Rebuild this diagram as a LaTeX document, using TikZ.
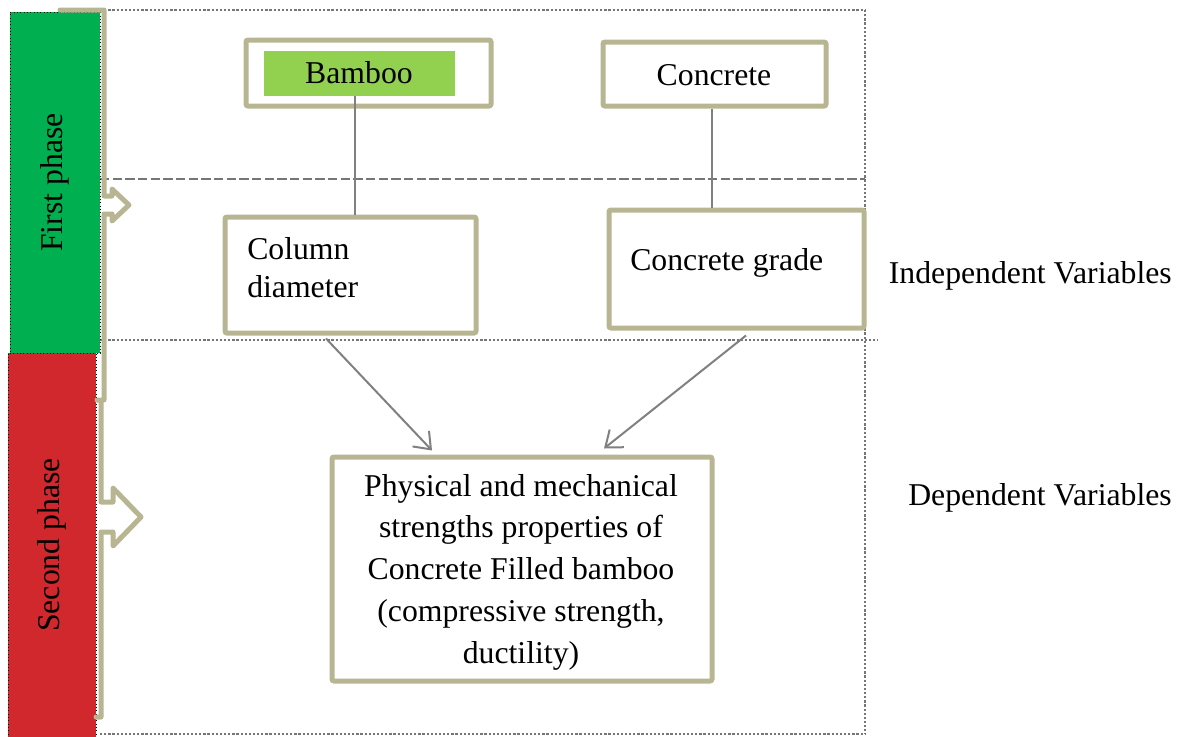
\documentclass[tikz,border=0pt]{standalone}
\usepackage{fontspec}
\setmainfont{Liberation Serif}
\usetikzlibrary{arrows.meta,calc}
\definecolor{tanc}{RGB}{184,182,146}
\definecolor{pgreen}{RGB}{0,176,80}
\definecolor{pred}{RGB}{209,40,46}
\definecolor{lgreen}{RGB}{146,208,80}
\definecolor{lgray}{RGB}{128,128,128}
\definecolor{dgray}{RGB}{118,118,118}
\begin{document}
\begin{tikzpicture}[x=0.75pt,y=-0.75pt,
  font=\fontsize{23.8}{31.3}\selectfont,
  box/.style={draw=tanc,line width=3.75pt,rounded corners=1.5pt,fill=white,inner sep=0pt},
  brace/.style={draw=tanc,line width=3.75pt,line join=round,line cap=round},
  link/.style={draw=lgray,line width=1.5pt},
  arr/.style={link,-{Straight Barb[length=11pt,width=17pt]}},
  sepdot/.style={draw=dgray,line width=1.7pt,dash pattern=on 1.7pt off 1.4pt},
  sepdash/.style={draw=dgray,line width=1.7pt,dash pattern=on 7pt off 2.5pt},
  phase/.style={draw=black,line width=0.5pt,dotted,inner sep=0pt},
  txt/.style={inner sep=0pt}]
\useasboundingbox (0,0) rectangle (1186,736);

% separators
\draw[sepdot] (100,10) -- (865,10);
\draw[sepdot] (865,10) -- (865,734);
\draw[sepdash] (100,179) -- (865,179);
\draw[sepdot] (100,340) -- (878,340);
\draw[sepdot] (100,734) -- (865,734);

% phase bars
\node[phase,fill=pgreen,minimum width=90*0.75pt,minimum height=341*0.75pt] (p1) at (55,182.5) {};
\node[txt,rotate=90] (p1t) at (p1.center) {First phase};
\node[phase,fill=pred,minimum width=88*0.75pt,minimum height=390*0.75pt] (p2) at (52,548) {};
\node[txt,rotate=90] (p2t) at (52,545) {Second phase};

% braces
\draw[brace] (60,10) -- (104,10) -- (104,196) -- (112,196) -- (112,189) -- (129,205)
  -- (112,221) -- (112,214) -- (104,214) -- (104,400) -- (97,400);
\draw[brace] (101,402) -- (101,502) -- (113,502) -- (113,488) -- (141,517) -- (113,546)
  -- (113,532) -- (101,532) -- (101,717) -- (96,717);

% boxes
\node[box,minimum width=245*0.75pt,minimum height=66*0.75pt] (bamboo) at (368.5,73) {};
\node[fill=lgreen,inner sep=0pt,minimum width=191*0.75pt,minimum height=45*0.75pt] (bamboofill) at (359.5,73.5) {};
\node[txt] (bambootxt) at (359,73) {Bamboo};
\node[box,minimum width=223*0.75pt,minimum height=64*0.75pt] (concrete) at (714.5,74) {};
\node[txt] (concretetxt) at (714,75) {Concrete};
\node[box,minimum width=251*0.75pt,minimum height=116*0.75pt] (col) at (350.5,275) {};
\node[txt,anchor=west,align=left,font=\fontsize{23.8}{28.5}\selectfont] (coltxt) at (247,268) {Column\\diameter};
\node[box,minimum width=255*0.75pt,minimum height=118*0.75pt] (grade) at (736.5,269) {};
\node[txt,anchor=west] (gradetxt) at (630,263) {Concrete grade};
\node[box,minimum width=380*0.75pt,minimum height=224*0.75pt] (phys) at (522,569) {};
\node[txt,align=center] (phystxt) at (521,572) {Physical and mechanical\\strengths properties of\\Concrete Filled bamboo\\(compressive strength,\\ductility)};

% labels
\node[txt,anchor=east] (indep) at (1172,276) {Independent Variables};
\node[txt,anchor=east] (dep) at (1172,498) {Dependent Variables};

% connectors
\draw[link] ($(bamboofill.south)+(-4.5,0)$) -- ($(bamboofill.south |- col.north)+(-4.5,0)$);
\draw[link] ($(concrete.south)+(-2.5,0)$) -- ($(concrete.south |- grade.north)+(-2.5,0)$);
\draw[arr] ($(col.south)+(-24.5,3)$) -- ($(phys.north)+(-90,-4)$);
\draw[arr] ($(grade.south)+(9.5,5)$) -- ($(phys.north)+(82,-6)$);
\end{tikzpicture}
\end{document}
